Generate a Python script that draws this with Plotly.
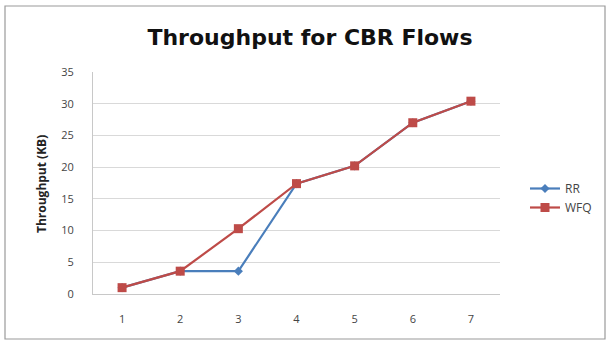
import plotly.graph_objects as go

# Throughput per flow count for two schedulers
flows = [1, 2, 3, 4, 5, 6, 7]
rr_kb = [1.0, 3.6, 3.6, 17.4, 20.2, 27.0, 30.4]
wfq_kb = [1.0, 3.6, 10.3, 17.4, 20.2, 27.0, 30.4]
y_ticks = [0, 5, 10, 15, 20, 25, 30, 35]

W, H = 611, 342
L, R, T, B = 93, 111, 72, 48
pw, ph = W - L - R, H - T - B

def px_x(x):
    return (x - L) / pw

def px_y(y):
    return (H - B - y) / ph

fig = go.Figure()
fig.add_trace(go.Scatter(
    x=flows, y=rr_kb, name="RR", mode="lines+markers",
    line=dict(color="#4a7ebb", width=2.2),
    marker=dict(symbol="diamond", size=7, color="#4a7ebb"),
))
fig.add_trace(go.Scatter(
    x=flows, y=wfq_kb, name="WFQ", mode="lines+markers",
    line=dict(color="#be4b48", width=2.2),
    marker=dict(symbol="square", size=9, color="#be4b48"),
))

tick_font = dict(family="Open Sans, Liberation Sans, sans-serif", size=11, color="#444444")

fig.update_layout(
    width=W, height=H,
    margin=dict(l=L, r=R, t=T, b=B),
    paper_bgcolor="white", plot_bgcolor="white",
    title=dict(
        text="<b>Throughput for CBR Flows</b>",
        x=310 / W, xanchor="center",
        y=1 - 37 / H, yanchor="middle",
        font=dict(family="DejaVu Sans, sans-serif", size=22, color="#111111"),
    ),
    xaxis=dict(
        type="linear", range=[0.5, 7.5], tickvals=flows, ticktext=[str(f) for f in flows],
        showgrid=False, zeroline=False, showline=True, linecolor="#c8c8c8", linewidth=1,
        ticks="", tickfont=tick_font, ticklabelstandoff=15,
    ),
    yaxis=dict(
        range=[0, 35], tickvals=y_ticks, showgrid=True, gridcolor="#d9d9d9", gridwidth=1,
        zeroline=False, showline=True, linecolor="#c8c8c8", linewidth=1,
        ticks="", tickfont=tick_font, ticklabelstandoff=16,
    ),
    legend=dict(
        x=px_x(525), y=px_y(174), xanchor="left", yanchor="top",
        font=dict(family="Open Sans, Liberation Sans, sans-serif", size=12, color="#444444"),
        tracegroupgap=5, itemwidth=30,
    ),
    annotations=[dict(
        text="<b>Throughput (KB)</b>", textangle=-90,
        xref="paper", yref="paper", x=px_x(41), y=px_y(184),
        xanchor="center", yanchor="middle", showarrow=False,
        font=dict(family="Open Sans, Liberation Sans, sans-serif", size=12, color="#222222"),
    )],
    shapes=[dict(
        type="rect", xref="paper", yref="paper",
        x0=px_x(5), x1=px_x(605), y0=px_y(339), y1=px_y(6),
        line=dict(color="#9a9a9a", width=1.2), fillcolor="rgba(0,0,0,0)", layer="below",
    )],
)

fig.write_html("out.html")
